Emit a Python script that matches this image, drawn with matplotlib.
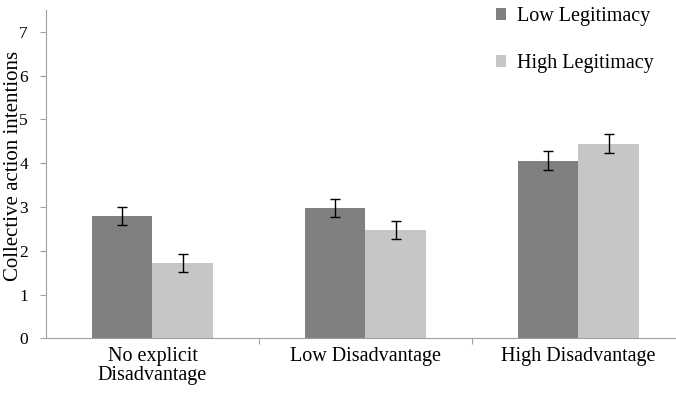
import numpy as np
import matplotlib.pyplot as plt

plt.rcParams['font.family'] = ['Liberation Serif', 'DejaVu Serif']

# data
categories = ['No explicit\nDisadvantage', 'Low Disadvantage', 'High Disadvantage']
low_leg = [2.80, 2.98, 4.06]
high_leg = [1.72, 2.48, 4.45]
low_err = [0.21, 0.21, 0.21]
high_err = [0.21, 0.21, 0.21]
series_names = ['Low Legitimacy', 'High Legitimacy']

fig = plt.figure(figsize=(6.76, 3.93), dpi=100)
ax = fig.add_axes([46/676., 54.7/393., 639/676., 328.3/393.])

x = np.arange(len(categories))
w = 0.286
ax.bar(x - w/2, low_leg, w, color='#808080', label=series_names[0])
ax.bar(x + w/2, high_leg, w, color='#c6c6c6', label=series_names[1])
ax.errorbar(x - w/2, low_leg, yerr=low_err, fmt='none', ecolor='black',
            elinewidth=1, capsize=3.3, capthick=1)
ax.errorbar(x + w/2, high_leg, yerr=high_err, fmt='none', ecolor='black',
            elinewidth=1, capsize=3.3, capthick=1)

ax.set_xlim(-0.5, 2.5)
ax.set_ylim(0, 7.5)
ax.set_yticks(range(8))
ax.set_xticks([0.5, 1.5])
ax.set_xticklabels([])
ax.set_xticks(x, minor=True)
ax.set_xticklabels(categories, minor=True, linespacing=1.0)
ax.tick_params(axis='x', which='minor', length=0, pad=6, labelsize=14.5)
ax.tick_params(axis='x', which='major', length=4, color='#a0a0a0')
ax.tick_params(axis='y', length=4, color='#a0a0a0', pad=9, labelsize=12.5)

for s in ['top', 'right']:
    ax.spines[s].set_visible(False)
for s in ['left', 'bottom']:
    ax.spines[s].set_color('#a0a0a0')

fig.text(14/676., 1 - 166/393., 'Collective action intentions', rotation=90,
         ha='center', va='center', fontsize=15)

ax.legend(loc='upper left', bbox_to_anchor=(496/676., 1 - 7/393.),
          bbox_transform=fig.transFigure, frameon=False, fontsize=14.5,
          handlelength=0.5, handleheight=0.5, handletextpad=0.55,
          labelspacing=1.4, borderpad=0, borderaxespad=0)

plt.savefig('out.png', dpi=100)
